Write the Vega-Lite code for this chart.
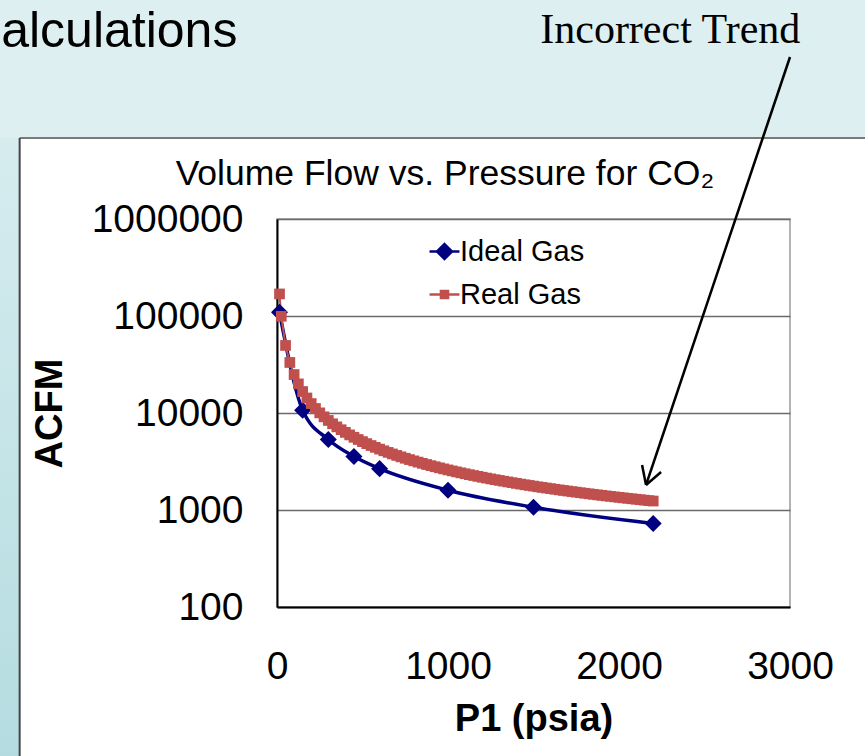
{
  "$schema": "https://vega.github.io/schema/vega-lite/v6.json",
  "width": 513,
  "height": 388,
  "autosize": "none",
  "padding": {"left": 277, "top": 219, "right": 75, "bottom": 149},
  "background": "white",
  "config": {
    "font": "Liberation Sans",
    "view": {"stroke": "#9a9a9a", "strokeWidth": 1.5},
    "axis": {
      "labelFont": "Liberation Sans",
      "labelFontSize": 39,
      "labelColor": "black",
      "labelFlush": false,
      "titleFont": "Liberation Sans",
      "titleFontSize": 38,
      "titleFontWeight": "bold",
      "titleColor": "black",
      "ticks": false,
      "domainColor": "black",
      "domainWidth": 2
    }
  },
  "data": {
    "values": [
      {"series": "Ideal Gas", "P": 14.7, "ACFM": 109000},
      {"series": "Ideal Gas", "P": 150, "ACFM": 10700},
      {"series": "Ideal Gas", "P": 300, "ACFM": 5330},
      {"series": "Ideal Gas", "P": 450, "ACFM": 3560},
      {"series": "Ideal Gas", "P": 600, "ACFM": 2670},
      {"series": "Ideal Gas", "P": 1000, "ACFM": 1600},
      {"series": "Ideal Gas", "P": 1500, "ACFM": 1067},
      {"series": "Ideal Gas", "P": 2200, "ACFM": 727},
      {"series": "Real Gas", "P": 14.7, "ACFM": 168800},
      {"series": "Real Gas", "P": 25, "ACFM": 99310},
      {"series": "Real Gas", "P": 50, "ACFM": 49710},
      {"series": "Real Gas", "P": 75, "ACFM": 33177},
      {"series": "Real Gas", "P": 100, "ACFM": 24910},
      {"series": "Real Gas", "P": 125, "ACFM": 19950},
      {"series": "Real Gas", "P": 150, "ACFM": 16643},
      {"series": "Real Gas", "P": 175, "ACFM": 14281},
      {"series": "Real Gas", "P": 200, "ACFM": 12510},
      {"series": "Real Gas", "P": 225, "ACFM": 11132},
      {"series": "Real Gas", "P": 250, "ACFM": 10030},
      {"series": "Real Gas", "P": 275, "ACFM": 9128},
      {"series": "Real Gas", "P": 300, "ACFM": 8377},
      {"series": "Real Gas", "P": 325, "ACFM": 7741},
      {"series": "Real Gas", "P": 350, "ACFM": 7196},
      {"series": "Real Gas", "P": 375, "ACFM": 6723},
      {"series": "Real Gas", "P": 400, "ACFM": 6310},
      {"series": "Real Gas", "P": 425, "ACFM": 5945},
      {"series": "Real Gas", "P": 450, "ACFM": 5621},
      {"series": "Real Gas", "P": 475, "ACFM": 5331},
      {"series": "Real Gas", "P": 500, "ACFM": 5070},
      {"series": "Real Gas", "P": 525, "ACFM": 4834},
      {"series": "Real Gas", "P": 550, "ACFM": 4619},
      {"series": "Real Gas", "P": 575, "ACFM": 4423},
      {"series": "Real Gas", "P": 600, "ACFM": 4243},
      {"series": "Real Gas", "P": 625, "ACFM": 4078},
      {"series": "Real Gas", "P": 650, "ACFM": 3925},
      {"series": "Real Gas", "P": 675, "ACFM": 3784},
      {"series": "Real Gas", "P": 700, "ACFM": 3653},
      {"series": "Real Gas", "P": 725, "ACFM": 3531},
      {"series": "Real Gas", "P": 750, "ACFM": 3417},
      {"series": "Real Gas", "P": 775, "ACFM": 3310},
      {"series": "Real Gas", "P": 800, "ACFM": 3210},
      {"series": "Real Gas", "P": 825, "ACFM": 3116},
      {"series": "Real Gas", "P": 850, "ACFM": 3028},
      {"series": "Real Gas", "P": 875, "ACFM": 2944},
      {"series": "Real Gas", "P": 900, "ACFM": 2866},
      {"series": "Real Gas", "P": 925, "ACFM": 2791},
      {"series": "Real Gas", "P": 950, "ACFM": 2721},
      {"series": "Real Gas", "P": 975, "ACFM": 2654},
      {"series": "Real Gas", "P": 1000, "ACFM": 2590},
      {"series": "Real Gas", "P": 1025, "ACFM": 2530},
      {"series": "Real Gas", "P": 1050, "ACFM": 2472},
      {"series": "Real Gas", "P": 1075, "ACFM": 2417},
      {"series": "Real Gas", "P": 1100, "ACFM": 2365},
      {"series": "Real Gas", "P": 1125, "ACFM": 2314},
      {"series": "Real Gas", "P": 1150, "ACFM": 2267},
      {"series": "Real Gas", "P": 1175, "ACFM": 2221},
      {"series": "Real Gas", "P": 1200, "ACFM": 2177},
      {"series": "Real Gas", "P": 1225, "ACFM": 2134},
      {"series": "Real Gas", "P": 1250, "ACFM": 2094},
      {"series": "Real Gas", "P": 1275, "ACFM": 2055},
      {"series": "Real Gas", "P": 1300, "ACFM": 2018},
      {"series": "Real Gas", "P": 1325, "ACFM": 1982},
      {"series": "Real Gas", "P": 1350, "ACFM": 1947},
      {"series": "Real Gas", "P": 1375, "ACFM": 1914},
      {"series": "Real Gas", "P": 1400, "ACFM": 1881},
      {"series": "Real Gas", "P": 1425, "ACFM": 1850},
      {"series": "Real Gas", "P": 1450, "ACFM": 1820},
      {"series": "Real Gas", "P": 1475, "ACFM": 1791},
      {"series": "Real Gas", "P": 1500, "ACFM": 1763},
      {"series": "Real Gas", "P": 1525, "ACFM": 1736},
      {"series": "Real Gas", "P": 1550, "ACFM": 1710},
      {"series": "Real Gas", "P": 1575, "ACFM": 1685},
      {"series": "Real Gas", "P": 1600, "ACFM": 1660},
      {"series": "Real Gas", "P": 1625, "ACFM": 1636},
      {"series": "Real Gas", "P": 1650, "ACFM": 1613},
      {"series": "Real Gas", "P": 1675, "ACFM": 1591},
      {"series": "Real Gas", "P": 1700, "ACFM": 1569},
      {"series": "Real Gas", "P": 1725, "ACFM": 1548},
      {"series": "Real Gas", "P": 1750, "ACFM": 1527},
      {"series": "Real Gas", "P": 1775, "ACFM": 1507},
      {"series": "Real Gas", "P": 1800, "ACFM": 1488},
      {"series": "Real Gas", "P": 1825, "ACFM": 1469},
      {"series": "Real Gas", "P": 1850, "ACFM": 1451},
      {"series": "Real Gas", "P": 1875, "ACFM": 1433},
      {"series": "Real Gas", "P": 1900, "ACFM": 1415},
      {"series": "Real Gas", "P": 1925, "ACFM": 1398},
      {"series": "Real Gas", "P": 1950, "ACFM": 1382},
      {"series": "Real Gas", "P": 1975, "ACFM": 1366},
      {"series": "Real Gas", "P": 2000, "ACFM": 1350},
      {"series": "Real Gas", "P": 2025, "ACFM": 1335},
      {"series": "Real Gas", "P": 2050, "ACFM": 1320},
      {"series": "Real Gas", "P": 2075, "ACFM": 1305},
      {"series": "Real Gas", "P": 2100, "ACFM": 1291},
      {"series": "Real Gas", "P": 2125, "ACFM": 1277},
      {"series": "Real Gas", "P": 2150, "ACFM": 1263},
      {"series": "Real Gas", "P": 2175, "ACFM": 1250},
      {"series": "Real Gas", "P": 2200, "ACFM": 1237}
    ]
  },
  "layer": [
    {
      "data": {"values": [{}]},
      "mark": {"type": "rect", "color": "#deeff1"},
      "encoding": {
        "x": {"datum": -1700}, "x2": {"datum": 3700},
        "y": {"datum": 6840000}, "y2": {"datum": 1000000000}
      }
    },
    {
      "data": {"values": [{}]},
      "mark": {"type": "rect", "color": {"gradient": "linear", "x1": 0, "y1": 0, "x2": 0, "y2": 1, "stops": [{"offset": 0, "color": "#d6ecef"}, {"offset": 1, "color": "#b2dbdf"}]}},
      "encoding": {
        "x": {"datum": -1700}, "x2": {"datum": -1505},
        "y": {"datum": 6840000}, "y2": {"datum": 1}
      }
    },
    {
      "data": {"values": [{}]},
      "mark": {"type": "rule", "color": "#7a7a7a", "strokeWidth": 2},
      "encoding": {
        "x": {"datum": -1505}, "x2": {"datum": 3700},
        "y": {"datum": 6840000}
      }
    },
    {
      "data": {"values": [{}]},
      "mark": {"type": "rule", "color": "#444444", "strokeWidth": 2},
      "encoding": {
        "x": {"datum": -1505},
        "y": {"datum": 6840000}, "y2": {"datum": 1}
      }
    },
    {
      "transform": [{"filter": "datum.series === 'Ideal Gas'"}],
      "mark": {"type": "line", "interpolate": "monotone", "strokeWidth": 3.5},
      "encoding": {
        "x": {"field": "P", "type": "quantitative", "scale": {"domain": [0, 3000], "nice": false, "zero": false},
              "axis": {"values": [0, 1000, 2000, 3000], "format": "d", "grid": false, "labelPadding": 40, "title": "P1 (psia)", "titlePadding": 14, "zindex": 1}},
        "y": {"field": "ACFM", "type": "quantitative", "scale": {"type": "log", "domain": [100, 1000000], "nice": false},
              "axis": {"values": [100, 1000, 10000, 100000, 1000000], "format": "d", "grid": true, "gridColor": "#6a6a6a", "gridWidth": 1.5, "labelPadding": 34, "title": "ACFM", "titlePadding": 22}},
        "color": {"field": "series", "type": "nominal", "scale": {"domain": ["Ideal Gas", "Real Gas"], "range": ["#000080", "#C0504D"]},
                  "legend": {"orient": "none", "legendX": 153, "legendY": 18, "title": null, "labelFont": "Liberation Sans", "labelFontSize": 29, "labelColor": "black", "labelOffset": 1, "rowPadding": 13, "padding": 0, "symbolSize": 350, "symbolOpacity": 1,
                             "encode": {"symbols": {"update": {"stroke": {"scale": "color", "field": "value"}, "strokeWidth": {"value": 2.5}}}}}}
      }
    },
    {
      "transform": [{"filter": "datum.series === 'Real Gas'"}],
      "mark": {"type": "line", "strokeWidth": 2},
      "encoding": {
        "x": {"field": "P", "type": "quantitative"},
        "y": {"field": "ACFM", "type": "quantitative"},
        "color": {"field": "series", "type": "nominal"}
      }
    },
    {
      "transform": [{"filter": "datum.series === 'Ideal Gas'"}],
      "mark": {"type": "point", "shape": "diamond", "filled": true, "size": 290, "opacity": 1},
      "encoding": {
        "x": {"field": "P", "type": "quantitative"},
        "y": {"field": "ACFM", "type": "quantitative"},
        "color": {"field": "series", "type": "nominal"}
      }
    },
    {
      "transform": [{"filter": "datum.series === 'Real Gas'"}],
      "mark": {"type": "point", "shape": "square", "filled": true, "size": 115, "opacity": 1},
      "encoding": {
        "x": {"field": "P", "type": "quantitative"},
        "y": {"field": "ACFM", "type": "quantitative"},
        "color": {"field": "series", "type": "nominal"}
      }
    },
    {
      "transform": [{"filter": "datum.P < 0"}],
      "mark": {"type": "point", "filled": true, "opacity": 1},
      "encoding": {
        "x": {"field": "P", "type": "quantitative"},
        "y": {"field": "ACFM", "type": "quantitative"},
        "color": {"field": "series", "type": "nominal"},
        "shape": {"field": "series", "type": "nominal", "scale": {"domain": ["Ideal Gas", "Real Gas"], "range": ["M-1.6,0L1.6,0M0,-0.8L0.8,0L0,0.8L-0.8,0Z", "M-1.6,0L1.6,0M-0.38,-0.38L0.38,-0.38L0.38,0.38L-0.38,0.38Z"]}}
      }
    },
    {
      "data": {"values": [{}]},
      "mark": {"type": "rule", "color": "black", "strokeWidth": 2.5},
      "encoding": {
        "x": {"datum": 3000}, "y": {"datum": 46800000},
        "x2": {"datum": 2158}, "y2": {"datum": 1811}
      }
    },
    {
      "data": {"values": [{}]},
      "mark": {"type": "rule", "color": "black", "strokeWidth": 2.5},
      "encoding": {
        "x": {"datum": 2135}, "y": {"datum": 2911},
        "x2": {"datum": 2158}, "y2": {"datum": 1811}
      }
    },
    {
      "data": {"values": [{}]},
      "mark": {"type": "rule", "color": "black", "strokeWidth": 2.5},
      "encoding": {
        "x": {"datum": 2246}, "y": {"datum": 2466},
        "x2": {"datum": 2158}, "y2": {"datum": 1811}
      }
    },
    {
      "data": {"values": [{"label": "Volume Flow vs. Pressure for CO₂"}]},
      "mark": {"type": "text", "font": "Liberation Sans", "fontSize": 35.5, "color": "black", "align": "center", "baseline": "alphabetic"},
      "encoding": {
        "x": {"datum": 982}, "y": {"datum": 2242000},
        "text": {"field": "label"}
      }
    },
    {
      "data": {"values": [{"label": "Incorrect Trend"}]},
      "mark": {"type": "text", "font": "Liberation Serif", "fontSize": 42, "color": "black", "align": "center", "baseline": "alphabetic"},
      "encoding": {
        "x": {"datum": 2300}, "y": {"datum": 65200000},
        "text": {"field": "label"}
      }
    },
    {
      "data": {"values": [{"label": "alculations"}]},
      "mark": {"type": "text", "font": "Liberation Sans", "fontSize": 50, "color": "black", "align": "left", "baseline": "alphabetic"},
      "encoding": {
        "x": {"datum": -1613}, "y": {"datum": 60000000},
        "text": {"field": "label"}
      }
    }
  ]
}
